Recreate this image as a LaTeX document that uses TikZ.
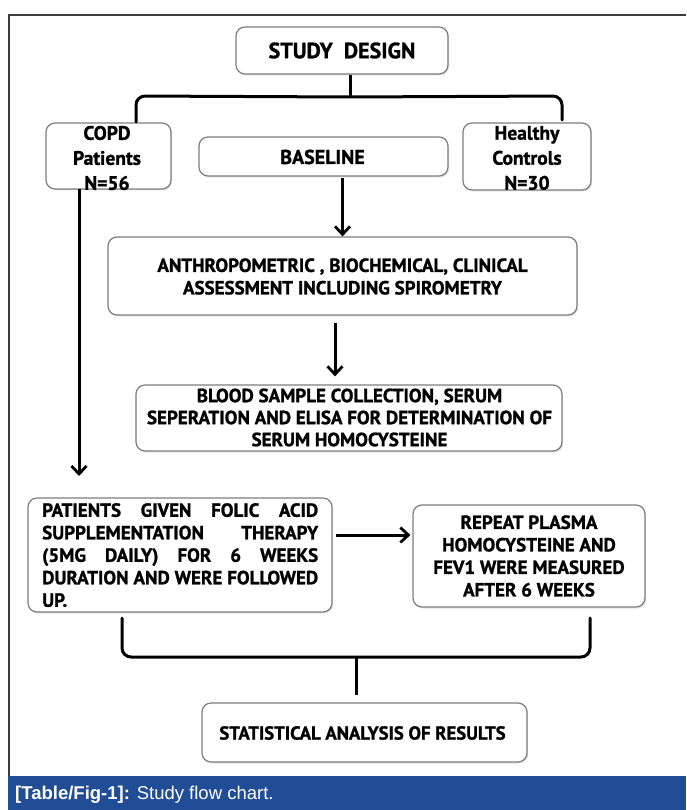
\documentclass[tikz,border=0pt]{standalone}
\usepackage{fontspec}
\setmainfont{Liberation Sans}
\newfontfamily\boxfont{PT Sans}[FakeBold=1.2]
\newfontfamily\capfont{Liberation Sans}
\usetikzlibrary{arrows.meta,shadows,calc}
\definecolor{capblue}{RGB}{33,77,150}
\definecolor{boxgray}{RGB}{125,125,125}
\definecolor{framegray}{RGB}{60,60,60}
\newcommand\jline[1]{\makebox[276pt][l]{#1}}
\begin{document}
\begin{tikzpicture}[x=1pt,y=-1pt,
  box/.style={draw=boxgray, line width=1.2pt, rounded corners=9pt, fill=white, inner sep=0pt,
    drop shadow={shadow xshift=1.2pt,shadow yshift=-1.5pt,opacity=0.22}},
  txt/.style={font=\boxfont\bfseries\fontsize{19}{22.5}\selectfont, align=center, inner sep=0pt},
  flowarr/.style={draw=black, line width=3pt, -{Straight Barb[length=8pt,width=15pt,line width=2.8pt]}},
  brace/.style={line width=3pt, rounded corners=9pt, line cap=round}]
\useasboundingbox (0,0) rectangle (686,810);
\fill[white] (0,0) rectangle (686,810);
% frame
\draw[framegray, line width=1.4pt] (9,776) -- (9,15) -- (686,15);
% caption bar
\fill[capblue] (8,776) rectangle (686,810);
\node[anchor=base west, inner sep=0pt, text=white, font=\capfont\fontsize{18.5}{20}\selectfont] (cap) at (15,799) {\textbf{[Table/Fig-1]:} Study flow chart.};
% boxes
\node[box, minimum width=212pt, minimum height=47pt] (design) at (342,50.5) {};
\node[txt, font=\boxfont\bfseries\fontsize{22}{24}\selectfont] (designT) at (design) {STUDY\ \ DESIGN};
\node[box, minimum width=125pt, minimum height=66pt] (copd) at (108.5,156) {};
\node[txt, font=\boxfont\bfseries\fontsize{19.5}{25}\selectfont] (copdT) at (107,158) {COPD\\Patients\\N=56};
\node[box, minimum width=249pt, minimum height=39pt] (base) at (323.5,156.5) {};
\node[txt, font=\boxfont\bfseries\fontsize{20}{24}\selectfont] (baseT) at (322.5,157) {BASELINE};
\node[box, minimum width=128pt, minimum height=67pt] (healthy) at (527,156.5) {};
\node[txt, font=\boxfont\bfseries\fontsize{19.5}{25}\selectfont] (healthyT) at (527,158) {Healthy\\Controls\\N=30};
\node[box, minimum width=469pt, minimum height=78pt] (anthro) at (342.5,276) {};
\node[txt] (anthroT) at (342.5,276.5) {ANTHROPOMETRIC , BIOCHEMICAL, CLINICAL\\ASSESSMENT INCLUDING SPIROMETRY};
\node[box, minimum width=426pt, minimum height=66pt] (blood) at (349,418) {};
\node[txt, font=\boxfont\bfseries\fontsize{19}{22}\selectfont] (bloodT) at (349.5,417.5) {BLOOD SAMPLE COLLECTION, SERUM\\SEPERATION AND ELISA FOR DETERMINATION OF\\SERUM HOMOCYSTEINE};
\node[box, minimum width=304pt, minimum height=114pt] (patients) at (180,555) {};
\node[txt, anchor=north west, align=left, text width=276pt] (patientsT) at (42,503)
 {\jline{PATIENTS\hfill GIVEN\hfill FOLIC\hfill ACID}\\
  \jline{SUPPLEMENTATION\hfill THERAPY}\\
  \jline{(5MG\hfill DAILY)\hfill FOR\hfill 6\hfill WEEKS}\\
  \jline{DURATION\hfill AND\hfill WERE\hfill FOLLOWED}\\
  \jline{UP.}};
\node[box, minimum width=232pt, minimum height=102pt] (repeat) at (529,556) {};
\node[txt] (repeatT) at (529,556) {REPEAT PLASMA\\HOMOCYSTEINE AND\\FEV1 WERE MEASURED\\AFTER 6 WEEKS};
\node[box, minimum width=325pt, minimum height=59pt] (stat) at (364.5,732.5) {};
\node[txt, font=\boxfont\bfseries\fontsize{18.7}{22}\selectfont] (statT) at (362.5,733) {STATISTICAL ANALYSIS OF RESULTS};
% top brace
\coordinate (tbL) at (136,122);
\coordinate (tbR) at (562,120);
\coordinate (tbC) at (350,97);
\draw[brace] (tbL) -- (136,96) -- (tbC) -- (562,96) -- (tbR);
\draw[line width=3pt] (tbC |- design.south) -- (tbC);
% bottom brace
\coordinate (bbL) at (122,618);
\coordinate (bbR) at (590,618);
\coordinate (bbC) at (356,657);
\coordinate (bbS) at (356,695);
\draw[brace] (bbL) -- (122,657) -- (bbC) -- (590,657) -- (bbR);
\draw[line width=3pt] (bbC) -- (bbS);
% arrows
\draw[flowarr] (anthro.north |- 0,178) -- (anthro.north);
\draw[flowarr] ($(anthro.south)+(-7.5,7)$) -- ($(blood.north)+(-14,-8)$);
\draw[flowarr] (79,189) coordinate (a3) -- (79,476) coordinate (a3e);
\draw[flowarr] ($(patients.east)+(3,-20)$) -- ($(repeat.west)+(-2,-21)$);
\end{tikzpicture}
\end{document}
